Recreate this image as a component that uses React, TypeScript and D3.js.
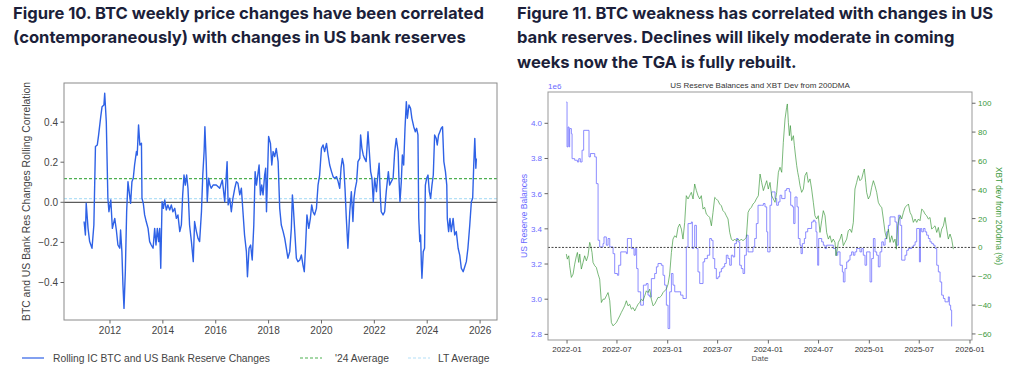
import React from "react";
import * as d3 from "d3";

const leftTitle = [
  "Figure 10. BTC weekly price changes have been correlated",
  "(contemporaneously) with changes in US bank reserves",
];
const rightTitle = [
  "Figure 11. BTC weakness has correlated with changes in US",
  "bank reserves. Declines will likely moderate in coming",
  "weeks now the TGA is fully rebuilt.",
];

// Rolling correlation [decimal year, value]
const corrSeries: [number, number][] = [
  [2011.02, -0.096], [2011.07, -0.163], [2011.1, -0.005], [2011.17, -0.13], [2011.23, -0.196], [2011.32, -0.229],
  [2011.39, -0.113], [2011.45, 0.278], [2011.52, 0.286], [2011.57, 0.336], [2011.65, 0.427], [2011.7, 0.477],
  [2011.77, 0.485], [2011.8, 0.544], [2011.86, 0.402], [2011.92, 0.02], [2011.96, -0.047], [2012.03, 0.012],
  [2012.09, -0.13], [2012.18, -0.08], [2012.24, -0.138], [2012.3, -0.213], [2012.37, -0.229], [2012.4, -0.138],
  [2012.45, -0.246], [2012.49, -0.412], [2012.53, -0.529], [2012.58, -0.346], [2012.63, -0.047], [2012.68, 0.103],
  [2012.74, 0.037], [2012.78, -0.005], [2012.83, 0.103], [2012.88, 0.12], [2012.93, 0.186], [2013.0, 0.253],
  [2013.03, 0.236], [2013.08, 0.386], [2013.13, 0.286], [2013.19, 0.294], [2013.21, 0.02], [2013.26, -0.005],
  [2013.31, -0.063], [2013.37, -0.096], [2013.44, -0.13], [2013.5, -0.196], [2013.56, -0.213], [2013.63, -0.229],
  [2013.69, -0.13], [2013.74, -0.213], [2013.79, -0.13], [2013.84, -0.196], [2013.88, -0.13], [2013.92, -0.329],
  [2013.97, 0.003], [2014.02, -0.03], [2014.07, 0.012], [2014.13, -0.038], [2014.19, -0.013], [2014.26, -0.038],
  [2014.32, -0.013], [2014.38, -0.047], [2014.45, -0.03], [2014.51, -0.08], [2014.57, -0.063], [2014.64, -0.146],
  [2014.7, -0.113], [2014.75, 0.037], [2014.8, 0.136], [2014.85, 0.086], [2014.9, 0.136], [2014.95, 0.07],
  [2015.01, -0.113], [2015.08, -0.196], [2015.15, -0.296], [2015.2, -0.096], [2015.27, -0.146], [2015.33, -0.18],
  [2015.39, -0.196], [2015.46, -0.047], [2015.51, 0.136], [2015.56, 0.253], [2015.59, 0.377], [2015.64, 0.203],
  [2015.68, 0.003], [2015.73, 0.12], [2015.78, 0.086], [2015.83, 0.07], [2015.9, 0.086], [2016.02, 0.086],
  [2016.15, 0.07], [2016.25, 0.111], [2016.34, 0.003], [2016.43, 0.203], [2016.47, -0.013], [2016.53, 0.02],
  [2016.59, -0.047], [2016.65, 0.02], [2016.72, 0.07], [2016.78, 0.103], [2016.84, 0.095], [2016.91, 0.037],
  [2016.97, 0.07], [2017.03, -0.047], [2017.09, -0.163], [2017.16, -0.246], [2017.2, -0.371], [2017.26, -0.229],
  [2017.32, -0.213], [2017.38, -0.288], [2017.44, -0.113], [2017.49, 0.153], [2017.54, 0.086], [2017.59, 0.136],
  [2017.64, 0.186], [2017.69, 0.037], [2017.74, 0.086], [2017.79, 0.037], [2017.85, 0.136], [2017.89, 0.17],
  [2017.92, -0.047], [2017.95, 0.086], [2018.0, 0.328], [2018.07, 0.294], [2018.12, 0.186], [2018.17, 0.253],
  [2018.23, 0.228], [2018.29, 0.269], [2018.36, 0.203], [2018.42, -0.03], [2018.48, -0.113], [2018.55, -0.146],
  [2018.61, -0.18], [2018.67, -0.229], [2018.73, -0.279], [2018.8, -0.246], [2018.86, -0.13], [2018.9, 0.037],
  [2018.93, -0.013], [2018.99, -0.146], [2019.05, -0.279], [2019.11, -0.296], [2019.18, -0.288], [2019.24, -0.263],
  [2019.3, -0.313], [2019.35, -0.346], [2019.4, -0.213], [2019.45, -0.063], [2019.52, -0.13], [2019.58, -0.08],
  [2019.63, -0.013], [2019.68, -0.047], [2019.74, -0.063], [2019.81, -0.03], [2019.87, 0.086], [2019.93, 0.136],
  [2020.0, 0.269], [2020.06, 0.286], [2020.12, 0.253], [2020.19, 0.294], [2020.25, 0.236], [2020.31, 0.186],
  [2020.38, 0.153], [2020.44, 0.128], [2020.5, 0.12], [2020.57, 0.128], [2020.63, 0.103], [2020.69, 0.07],
  [2020.74, 0.17], [2020.79, 0.219], [2020.84, 0.186], [2020.89, 0.07], [2020.94, -0.08], [2021.0, -0.229],
  [2021.07, -0.047], [2021.13, 0.053], [2021.19, -0.096], [2021.23, 0.02], [2021.28, 0.07], [2021.33, 0.103],
  [2021.38, 0.203], [2021.45, 0.219], [2021.48, 0.336], [2021.53, 0.269], [2021.58, 0.236], [2021.63, 0.219],
  [2021.69, 0.203], [2021.76, 0.352], [2021.81, 0.253], [2021.86, 0.153], [2021.91, 0.12], [2021.96, 0.003],
  [2022.01, 0.12], [2022.08, 0.053], [2022.11, 0.103], [2022.18, 0.195], [2022.23, 0.02], [2022.26, -0.047],
  [2022.33, -0.063], [2022.39, -0.047], [2022.45, 0.053], [2022.49, 0.103], [2022.53, 0.153], [2022.58, 0.086],
  [2022.64, 0.103], [2022.71, 0.12], [2022.77, 0.253], [2022.83, 0.319], [2022.9, 0.253], [2022.93, 0.12],
  [2022.97, 0.003], [2023.02, 0.103], [2023.06, 0.236], [2023.11, 0.186], [2023.16, 0.369], [2023.21, 0.502],
  [2023.25, 0.419], [2023.31, 0.485], [2023.37, 0.469], [2023.42, 0.419], [2023.49, 0.377], [2023.55, 0.352],
  [2023.6, 0.369], [2023.65, 0.336], [2023.68, -0.08], [2023.72, -0.196], [2023.75, -0.163], [2023.78, -0.313],
  [2023.8, -0.379], [2023.85, -0.246], [2023.9, -0.229], [2023.93, 0.086], [2023.98, 0.12], [2024.03, 0.136],
  [2024.08, 0.053], [2024.13, 0.02], [2024.18, 0.086], [2024.23, 0.136], [2024.28, 0.336], [2024.34, 0.319],
  [2024.38, 0.286], [2024.43, 0.336], [2024.48, 0.352], [2024.53, 0.369], [2024.58, 0.377], [2024.63, 0.203],
  [2024.69, 0.153], [2024.74, 0.086], [2024.76, -0.08], [2024.81, -0.146], [2024.86, -0.08], [2024.91, -0.146],
  [2024.98, -0.08], [2025.04, -0.163], [2025.1, -0.146], [2025.17, -0.229], [2025.23, -0.263], [2025.29, -0.329],
  [2025.36, -0.346], [2025.42, -0.321], [2025.48, -0.296], [2025.54, -0.229], [2025.61, -0.113], [2025.67, 0.003],
  [2025.72, 0.02], [2025.76, 0.186], [2025.8, 0.319], [2025.84, 0.17], [2025.86, 0.219],
];
const avg24 = 0.118;
const ltAvg = 0.018;
const corrYTicks = [-0.4, -0.2, 0, 0.2, 0.4];
const corrXTicks = [2012, 2014, 2016, 2018, 2020, 2022, 2024, 2026];
const corrLegend = ["Rolling IC BTC and US Bank Reserve Changes", "'24 Average", "LT Average"];

// US reserve balances (1e6) [decimal year, value]
const reserveSeries: [number, number][] = [
  [2021.993, 4.121], [2022.0, 3.866], [2022.01, 3.979], [2022.02, 3.866], [2022.026, 3.97], [2022.043, 3.941],
  [2022.05, 3.799], [2022.076, 3.79], [2022.103, 3.78], [2022.116, 3.799], [2022.132, 3.78], [2022.149, 3.847],
  [2022.165, 3.96], [2022.208, 3.96], [2022.218, 3.809], [2022.232, 3.828], [2022.258, 3.828], [2022.275, 3.809],
  [2022.291, 3.657], [2022.308, 3.335], [2022.324, 3.297], [2022.357, 3.316], [2022.367, 3.354], [2022.39, 3.307],
  [2022.407, 3.345], [2022.424, 3.297], [2022.457, 3.259], [2022.473, 3.146], [2022.5, 3.136], [2022.513, 3.193],
  [2022.533, 3.269], [2022.589, 3.259], [2022.599, 3.345], [2022.622, 3.345], [2022.639, 3.288], [2022.665, 3.25],
  [2022.678, 3.288], [2022.691, 3.174], [2022.705, 3.042], [2022.731, 2.966], [2022.758, 3.08], [2022.787, 3.089],
  [2022.804, 3.023], [2022.821, 3.013], [2022.837, 3.117], [2022.87, 3.146], [2022.887, 3.184], [2022.903, 3.203],
  [2022.936, 3.193], [2022.953, 3.136], [2022.969, 3.08], [2022.986, 2.966], [2023.003, 2.833], [2023.019, 3.042],
  [2023.036, 3.146], [2023.052, 3.08], [2023.069, 3.042], [2023.128, 3.023], [2023.151, 3.004], [2023.178, 3.004],
  [2023.184, 3.297], [2023.201, 3.43], [2023.234, 3.439], [2023.244, 3.288], [2023.257, 3.297], [2023.267, 3.42],
  [2023.284, 3.288], [2023.3, 3.155], [2023.317, 3.089], [2023.35, 3.212], [2023.366, 3.231], [2023.393, 3.25],
  [2023.416, 3.345], [2023.433, 3.335], [2023.449, 3.231], [2023.466, 3.174], [2023.482, 3.117], [2023.499, 3.127],
  [2023.515, 3.155], [2023.532, 3.174], [2023.548, 3.184], [2023.565, 3.203], [2023.581, 3.25], [2023.598, 3.231],
  [2023.615, 3.193], [2023.631, 3.25], [2023.648, 3.24], [2023.664, 3.316], [2023.681, 3.345], [2023.697, 3.326],
  [2023.714, 3.193], [2023.73, 3.174], [2023.747, 3.146], [2023.763, 3.25], [2023.78, 3.364], [2023.797, 3.269],
  [2023.846, 3.297], [2023.863, 3.345], [2023.879, 3.43], [2023.896, 3.534], [2023.932, 3.534], [2023.949, 3.544],
  [2023.965, 3.525], [2023.982, 3.383], [2023.992, 3.269], [2024.005, 3.269], [2024.015, 3.534], [2024.031, 3.61],
  [2024.048, 3.61], [2024.065, 3.572], [2024.081, 3.534], [2024.098, 3.553], [2024.114, 3.591], [2024.131, 3.572],
  [2024.164, 3.619], [2024.18, 3.629], [2024.207, 3.61], [2024.22, 3.534], [2024.237, 3.525], [2024.25, 3.43],
  [2024.263, 3.581], [2024.283, 3.525], [2024.296, 3.345], [2024.313, 3.307], [2024.323, 3.259], [2024.336, 3.316],
  [2024.356, 3.345], [2024.369, 3.383], [2024.389, 3.402], [2024.428, 3.439], [2024.445, 3.449], [2024.461, 3.439],
  [2024.471, 3.383], [2024.481, 3.288], [2024.488, 3.193], [2024.498, 3.345], [2024.528, 3.326], [2024.544, 3.307],
  [2024.561, 3.288], [2024.577, 3.307], [2024.61, 3.307], [2024.643, 3.288], [2024.67, 3.25], [2024.687, 3.269],
  [2024.71, 3.193], [2024.733, 3.155], [2024.743, 3.098], [2024.759, 3.174], [2024.776, 3.212], [2024.792, 3.222],
  [2024.809, 3.25], [2024.825, 3.269], [2024.842, 3.25], [2024.858, 3.269], [2024.875, 3.288], [2024.908, 3.269],
  [2024.925, 3.288], [2024.941, 3.25], [2024.958, 3.193], [2024.974, 3.269], [2025.008, 3.098], [2025.024, 3.231],
  [2025.041, 3.345], [2025.057, 3.269], [2025.074, 3.25], [2025.09, 3.184], [2025.107, 3.269], [2025.124, 3.326],
  [2025.14, 3.307], [2025.157, 3.345], [2025.173, 3.383], [2025.19, 3.42], [2025.206, 3.468], [2025.256, 3.439],
  [2025.273, 3.307], [2025.289, 3.477], [2025.306, 3.42], [2025.322, 3.222], [2025.355, 3.25], [2025.372, 3.278],
  [2025.389, 3.288], [2025.422, 3.297], [2025.438, 3.307], [2025.455, 3.326], [2025.471, 3.402], [2025.498, 3.212],
  [2025.508, 3.402], [2025.521, 3.383], [2025.537, 3.402], [2025.554, 3.383], [2025.57, 3.364], [2025.587, 3.345],
  [2025.603, 3.326], [2025.62, 3.316], [2025.637, 3.307], [2025.653, 3.288], [2025.67, 3.193], [2025.686, 3.155],
  [2025.703, 3.098], [2025.719, 3.023], [2025.736, 3.004], [2025.752, 2.985], [2025.785, 3.013], [2025.795, 2.966],
  [2025.808, 2.938], [2025.818, 2.845],
];

// XBT deviation from 200DMA (%) [decimal year, value]
const xbtDevSeries: [number, number][] = [
  [2021.993, -4.6], [2022.003, -8.1], [2022.017, -5.8], [2022.026, -12.7], [2022.043, -20.8], [2022.06, -18.5],
  [2022.076, -11.6], [2022.093, -5.8], [2022.103, -3.5], [2022.116, -10.4], [2022.126, -4.6], [2022.142, -15.0],
  [2022.159, -10.4], [2022.175, -5.8], [2022.192, -9.3], [2022.208, -5.8], [2022.225, 3.5], [2022.235, 1.2],
  [2022.248, -3.5], [2022.258, -10.4], [2022.275, -12.7], [2022.291, -13.9], [2022.308, -18.5], [2022.324, -22.0],
  [2022.341, -38.2], [2022.357, -35.9], [2022.374, -35.9], [2022.39, -33.6], [2022.407, -31.3], [2022.424, -37.0],
  [2022.44, -52.1], [2022.457, -54.4], [2022.473, -53.2], [2022.49, -52.1], [2022.506, -49.8], [2022.523, -47.5],
  [2022.539, -45.1], [2022.556, -42.8], [2022.572, -40.5], [2022.589, -37.0], [2022.605, -40.5], [2022.622, -39.4],
  [2022.639, -42.8], [2022.655, -41.7], [2022.672, -44.0], [2022.688, -41.7], [2022.705, -39.4], [2022.721, -38.2],
  [2022.738, -35.9], [2022.754, -37.0], [2022.771, -33.6], [2022.787, -30.1], [2022.804, -31.3], [2022.821, -28.9],
  [2022.837, -35.9], [2022.854, -40.5], [2022.87, -39.4], [2022.887, -37.0], [2022.903, -34.7], [2022.92, -34.7],
  [2022.936, -33.6], [2022.953, -31.3], [2022.969, -30.1], [2022.986, -28.9], [2023.003, -25.5], [2023.019, -18.5],
  [2023.036, -3.5], [2023.052, 5.8], [2023.069, 8.1], [2023.085, 6.9], [2023.102, 13.9], [2023.118, 16.2],
  [2023.135, 12.7], [2023.151, 5.8], [2023.168, 17.4], [2023.184, 35.9], [2023.201, 33.6], [2023.217, 35.9],
  [2023.234, 38.2], [2023.251, 33.6], [2023.267, 44.0], [2023.284, 39.4], [2023.3, 35.9], [2023.317, 33.6],
  [2023.333, 35.9], [2023.35, 26.6], [2023.366, 27.8], [2023.383, 23.1], [2023.4, 22.0], [2023.416, 20.8],
  [2023.433, 15.0], [2023.449, 24.3], [2023.466, 34.7], [2023.482, 33.6], [2023.499, 32.4], [2023.515, 30.1],
  [2023.532, 28.9], [2023.548, 25.5], [2023.565, 24.3], [2023.581, 22.0], [2023.598, 19.7], [2023.615, 10.4],
  [2023.631, 5.8], [2023.648, 4.6], [2023.664, 5.8], [2023.681, 4.6], [2023.697, 5.8], [2023.714, 4.6],
  [2023.73, 5.8], [2023.747, 4.6], [2023.763, 5.8], [2023.78, 6.9], [2023.797, 24.3], [2023.813, 26.6],
  [2023.83, 27.8], [2023.846, 30.1], [2023.863, 31.3], [2023.879, 33.6], [2023.899, 35.9], [2023.916, 50.9],
  [2023.932, 45.1], [2023.949, 39.4], [2023.965, 42.8], [2023.982, 46.3], [2023.998, 40.5], [2024.015, 45.1],
  [2024.031, 35.9], [2024.048, 33.6], [2024.065, 31.3], [2024.081, 38.2], [2024.098, 52.1], [2024.114, 55.6],
  [2024.131, 52.1], [2024.147, 72.9], [2024.164, 89.1], [2024.18, 97.2], [2024.187, 99.5], [2024.197, 86.8],
  [2024.207, 77.5], [2024.217, 84.5], [2024.23, 74.1], [2024.247, 77.5], [2024.257, 70.6], [2024.266, 64.8],
  [2024.28, 56.7], [2024.29, 52.1], [2024.3, 48.6], [2024.313, 42.8], [2024.329, 38.2], [2024.346, 40.5],
  [2024.362, 49.8], [2024.379, 52.1], [2024.395, 45.1], [2024.412, 47.5], [2024.428, 40.5], [2024.445, 31.3],
  [2024.461, 22.0], [2024.478, 19.7], [2024.494, 22.0], [2024.511, 10.4], [2024.528, 18.5], [2024.544, 25.5],
  [2024.561, 22.0], [2024.577, 10.4], [2024.594, 5.8], [2024.61, 8.1], [2024.627, 3.5], [2024.643, 5.8],
  [2024.66, 3.5], [2024.67, -5.8], [2024.683, -1.2], [2024.693, 3.5], [2024.71, 5.8], [2024.726, 9.3],
  [2024.743, 1.2], [2024.759, 3.5], [2024.776, 5.8], [2024.792, 11.6], [2024.809, 12.7], [2024.825, 10.4],
  [2024.842, 17.4], [2024.858, 40.5], [2024.875, 45.1], [2024.892, 49.8], [2024.908, 46.3], [2024.925, 47.5],
  [2024.941, 52.1], [2024.951, 54.4], [2024.965, 45.1], [2024.974, 38.2], [2024.991, 33.6], [2025.008, 35.9],
  [2025.024, 41.7], [2025.041, 46.3], [2025.057, 42.8], [2025.074, 38.2], [2025.09, 31.3], [2025.107, 28.9],
  [2025.124, 27.8], [2025.14, 19.7], [2025.157, 10.4], [2025.173, 5.8], [2025.19, 12.7], [2025.206, 3.5],
  [2025.223, 8.1], [2025.24, 3.5], [2025.256, 5.8], [2025.269, -1.2], [2025.282, 15.0], [2025.296, 19.7],
  [2025.309, 22.0], [2025.322, 19.7], [2025.339, 24.3], [2025.355, 27.8], [2025.372, 28.9], [2025.389, 30.1],
  [2025.405, 24.3], [2025.422, 22.0], [2025.438, 17.4], [2025.455, 19.7], [2025.471, 17.4], [2025.488, 19.7],
  [2025.504, 18.5], [2025.521, 26.6], [2025.537, 25.5], [2025.554, 23.1], [2025.57, 22.0], [2025.587, 19.7],
  [2025.603, 20.8], [2025.62, 12.7], [2025.637, 13.9], [2025.653, 15.0], [2025.67, 10.4], [2025.686, 13.9],
  [2025.703, 6.9], [2025.719, 12.7], [2025.736, 15.0], [2025.752, 20.8], [2025.769, 12.7], [2025.785, 5.8],
  [2025.802, 9.3], [2025.818, 5.8], [2025.835, -1.2],
];
const reserveTicks = [2.8, 3.0, 3.2, 3.4, 3.6, 3.8, 4.0];
const devTicks = [-60, -40, -20, 0, 20, 40, 60, 80, 100];
const dateTicks = ["2022-01", "2022-07", "2023-01", "2023-07", "2024-01", "2024-07", "2025-01", "2025-07", "2026-01"];

const AX_FONT = "'Liberation Sans', Arial, sans-serif";
const TITLE_FONT = "Inter, 'Open Sans', sans-serif";
const TITLE_COLOR = "#1c1f3a";

const minus = (s: string) => s.replace("-", "\u2212");
const yearToDate = (y: number) => new Date(Date.UTC(2022, 0, 1) + (y - 2022) * 365.25 * 864e5);
const parseMonth = (s: string) => {
  const [yy, mm] = s.split("-").map(Number);
  return new Date(Date.UTC(yy, mm - 1, 1));
};

function LeftChart() {
  const L = 64, R = 497, T = 83, B = 320;
  const x = d3.scaleLinear().domain([2010.26, 2026.64]).range([L, R]);
  const y = d3.scaleLinear().domain([-0.587, 0.595]).range([B, T]);
  const line = d3.line<[number, number]>().x((d) => x(d[0])).y((d) => y(d[1]));
  return (
    <g>
      <line x1={L} x2={R} y1={y(avg24)} y2={y(avg24)} stroke="#4caf50" strokeWidth={1.2} strokeDasharray="3,2" />
      <line x1={L} x2={R} y1={y(ltAvg)} y2={y(ltAvg)} stroke="#b3e0f7" strokeWidth={1.2} strokeDasharray="3,2" />
      <line x1={L} x2={R} y1={y(0)} y2={y(0)} stroke="#333" strokeWidth={1} />
      <path d={line(corrSeries) || ""} fill="none" stroke="#2f62e6" strokeWidth={1.4} strokeLinejoin="round" />
      <rect x={L} y={T} width={R - L} height={B - T} fill="none" stroke="#8a8a8a" strokeWidth={1} />
      {corrYTicks.map((t) => (
        <g key={t}>
          <line x1={L - 3.5} x2={L} y1={y(t)} y2={y(t)} stroke="#666" />
          <text x={L - 6} y={y(t) + 3.5} textAnchor="end" fontSize={10} fill="#444" fontFamily={AX_FONT}>
            {minus(t.toFixed(1))}
          </text>
        </g>
      ))}
      {corrXTicks.map((t) => (
        <g key={t}>
          <line x1={x(t)} x2={x(t)} y1={B} y2={B + 3.5} stroke="#666" />
          <text x={x(t)} y={B + 14} textAnchor="middle" fontSize={10} fill="#444" fontFamily={AX_FONT}>
            {t}
          </text>
        </g>
      ))}
      <text
        transform={`translate(30,${(T + B) / 2}) rotate(-90)`}
        textAnchor="middle"
        fontSize={10.4}
        fill="#444"
        fontFamily={AX_FONT}
      >
        BTC and US Bank Res Changes Rolling Correlation
      </text>
      {/* legend */}
      <g fontFamily={AX_FONT} fontSize={10.3} fill="#444">
        <line x1={22} x2={44} y1={358} y2={358} stroke="#2f62e6" strokeWidth={1.2} />
        <text x={53} y={361.5}>{corrLegend[0]}</text>
        <line x1={300} x2={322} y1={358} y2={358} stroke="#4caf50" strokeWidth={1.2} strokeDasharray="3,2" />
        <text x={335} y={361.5}>{corrLegend[1]}</text>
        <line x1={408} x2={430} y1={358} y2={358} stroke="#b3e0f7" strokeWidth={1.2} strokeDasharray="3,2" />
        <text x={438} y={361.5}>{corrLegend[2]}</text>
      </g>
    </g>
  );
}

function RightChart() {
  const L = 548, R = 972, T = 92, B = 340;
  const x = d3.scaleTime().domain([yearToDate(2021.811), yearToDate(2026.02)]).range([L, R]);
  const yL = d3.scaleLinear().domain([2.768, 4.178]).range([B, T]);
  const yR = d3.scaleLinear().domain([-64.2, 107.8]).range([B, T]);
  const resLine = d3
    .line<[number, number]>()
    .x((d) => x(yearToDate(d[0])))
    .y((d) => yL(d[1]))
    .curve(d3.curveStepAfter);
  const devLine = d3
    .line<[number, number]>()
    .x((d) => x(yearToDate(d[0])))
    .y((d) => yR(d[1]));
  return (
    <g>
      <text x={(L + R) / 2} y={88} textAnchor="middle" fontSize={8} fill="#333" fontFamily={AX_FONT}>
        US Reserve Balances and XBT Dev from 200DMA
      </text>
      <text x={L} y={89} fontSize={8} fill="#6a6aff" fontFamily={AX_FONT}>1e6</text>
      <path d={resLine(reserveSeries) || ""} fill="none" stroke="#7878ff" strokeWidth={1} opacity={0.85} />
      <path d={devLine(xbtDevSeries) || ""} fill="none" stroke="#3a963a" strokeWidth={0.9} opacity={0.75} />
      <line x1={L} x2={R} y1={yR(0)} y2={yR(0)} stroke="#444" strokeWidth={1} strokeDasharray="2,1.5" />
      <rect x={L} y={T} width={R - L} height={B - T} fill="none" stroke="#999" strokeWidth={1} />
      {reserveTicks.map((t) => (
        <g key={t}>
          <line x1={L - 3.5} x2={L} y1={yL(t)} y2={yL(t)} stroke="#666" />
          <text x={L - 6} y={yL(t) + 3} textAnchor="end" fontSize={8} fill="#6a6aff" fontFamily={AX_FONT}>
            {t.toFixed(1)}
          </text>
        </g>
      ))}
      {devTicks.map((t) => (
        <g key={t}>
          <line x1={R} x2={R + 3.5} y1={yR(t)} y2={yR(t)} stroke="#666" />
          <text x={R + 6} y={yR(t) + 3} textAnchor="start" fontSize={8} fill="#3a9a3a" fontFamily={AX_FONT}>
            {minus(String(t))}
          </text>
        </g>
      ))}
      {dateTicks.map((s) => {
        const px = x(parseMonth(s));
        return (
          <g key={s}>
            <line x1={px} x2={px} y1={B} y2={B + 3.5} stroke="#666" />
            <text x={px} y={B + 12} textAnchor="middle" fontSize={8} fill="#333" fontFamily={AX_FONT}>
              {s}
            </text>
          </g>
        );
      })}
      <text x={(L + R) / 2} y={361} textAnchor="middle" fontSize={8} fill="#555" fontFamily={AX_FONT}>Date</text>
      <text
        transform={`translate(527,${(T + B) / 2}) rotate(-90)`}
        textAnchor="middle"
        fontSize={8.6}
        fill="#6a6aff"
        fontFamily={AX_FONT}
      >
        US Reserve Balances
      </text>
      <text
        transform={`translate(996,${(T + B) / 2}) rotate(90)`}
        textAnchor="middle"
        fontSize={8.3}
        fill="#3a9a3a"
        fontFamily={AX_FONT}
      >
        XBT dev from 200dma (%)
      </text>
    </g>
  );
}

export default function App() {
  return (
    <svg
      width={1024}
      height={371}
      viewBox="0 0 1024 371"
      style={{ position: "absolute", left: 0, top: 0, background: "#fff" }}
    >
      <rect x={0} y={0} width={1024} height={371} fill="#fff" />
      <g fontFamily={TITLE_FONT} fontWeight={700} fontSize={16.6} fill={TITLE_COLOR}>
        {leftTitle.map((s, i) => (
          <text key={i} x={13} y={19 + i * 24.4}>{s}</text>
        ))}
        {rightTitle.map((s, i) => (
          <text key={i} x={517} y={19 + i * 24.4}>{s}</text>
        ))}
      </g>
      <LeftChart />
      <RightChart />
    </svg>
  );
}
